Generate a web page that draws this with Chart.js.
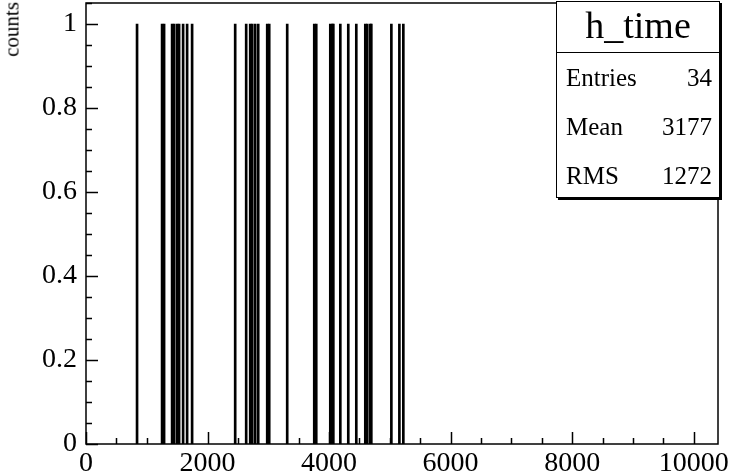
<!DOCTYPE html>
<html>
<head>
<meta charset="utf-8">
<script src="https://cdn.jsdelivr.net/npm/chart.js@4.4.1/dist/chart.umd.min.js"></script>
<style>
  html, body { margin: 0; padding: 0; background: #fff; }
  #wrap { position: relative; width: 730px; height: 476px; }
  #ytitle {
    position: absolute; left: 12px; top: 2px; font-size: 21px; line-height: 21px;
    font-family: "Liberation Serif", "DejaVu Serif", serif; color: #000;
    transform-origin: 0 0; transform: rotate(-90deg) translate(-100%, -50%);
    white-space: nowrap;
  }
  #stats {
    position: absolute; left: 556px; top: 1px; width: 162px; height: 195px;
    border: 1.5px solid #000; box-shadow: 2px 2px 0 #000; background: #fff;
    font-family: "Liberation Serif", "DejaVu Serif", serif; color: #000;
  }
  #stats .title {
    height: 50px; line-height: 46px; border-bottom: 1.5px solid #000;
    font-size: 38px; text-align: center;
  }
  #stats .row {
    display: flex; justify-content: space-between;
    height: 49px; line-height: 49px; padding: 0 7px 0 9px; font-size: 25px;
  }
  #stats .row:last-child { height: 46px; }
</style>
</head>
<body>
<div id="wrap">
  <canvas id="hist" width="730" height="476"></canvas>
  <div id="ytitle">counts</div>
  <div id="stats">
    <div class="title">h_time</div>
    <div class="row"><span>Entries</span><span>34</span></div>
    <div class="row"><span>Mean</span><span>3177</span></div>
    <div class="row"><span>RMS</span><span>1272</span></div>
  </div>
</div>
<script>
// one entry per hit
const hitTimes = [
  840, 1252, 1285, 1417, 1450, 1499, 1532, 1598, 1664, 1746,
  2455, 2636, 2702, 2735, 2784, 2834, 2982, 3015, 3311,
  3756, 3789, 4020, 4053, 4070, 4185, 4316, 4448, 4596, 4629, 4679, 4695,
  5025, 5157, 5222,
];
const hitCounts = [
  1, 1, 1, 1, 1, 1, 1, 1, 1, 1,
  1, 1, 1, 1, 1, 1, 1, 1, 1,
  1, 1, 1, 1, 1, 1, 1, 1, 1, 1, 1, 1,
  1, 1, 1,
];
const xTicks = [0, 2000, 4000, 6000, 8000, 10000];
const yTicks = [0, 0.2, 0.4, 0.6, 0.8, 1];
const xRange = [0, 10400];
const yRange = [0, 1.05];

const serif = '"Liberation Serif", "DejaVu Serif", serif';

// ROOT style frame with ticks pointing inwards
const rootFrame = {
  id: "rootFrame",
  afterDatasetsDraw(chart) {
    const { ctx, chartArea: a, scales } = chart;
    const { x, y } = scales;
    ctx.save();
    ctx.strokeStyle = "#000";
    ctx.lineWidth = 1.5;
    ctx.strokeRect(a.left, a.top, a.right - a.left, a.bottom - a.top);
    ctx.beginPath();
    // x: major every 2000, minor every 500
    for (let i = 0; i * 500 <= xRange[1]; i++) {
      const px = Math.round(x.getPixelForValue(i * 500)) + 0.5;
      const len = i % 4 === 0 ? 12 : 6;
      ctx.moveTo(px, a.bottom);
      ctx.lineTo(px, a.bottom - len);
    }
    // y: major every 0.2, minor every 0.05
    for (let i = 0; i * 0.05 <= yRange[1] + 1e-9; i++) {
      const py = Math.round(y.getPixelForValue(i * 0.05)) + 0.5;
      const len = i % 4 === 0 ? 12 : 6;
      ctx.moveTo(a.left, py);
      ctx.lineTo(a.left + len, py);
    }
    ctx.stroke();
    ctx.restore();
  },
};

new Chart(document.getElementById("hist"), {
  type: "bar",
  data: {
    datasets: [
      {
        data: hitTimes.map((t, i) => ({ x: t, y: hitCounts[i] })),
        backgroundColor: "#000",
        borderWidth: 0,
        barThickness: 2,
      },
    ],
  },
  options: {
    responsive: false,
    animation: false,
    layout: { padding: { top: 3, right: 12, bottom: 0, left: 0 } },
    plugins: { legend: { display: false }, tooltip: { enabled: false } },
    scales: {
      x: {
        type: "linear",
        offset: false,
        min: xRange[0],
        max: xRange[1],
        afterBuildTicks: (axis) => { axis.ticks = xTicks.map((v) => ({ value: v })); },
        afterFit: (axis) => {
          axis.height = 32;
          axis.paddingLeft = 0;
          axis.paddingRight = 0;
        },
        grid: { display: false, drawTicks: false },
        border: { display: false },
        ticks: {
          color: "#000", padding: 3, maxRotation: 0, autoSkip: false,
          font: { family: serif, size: 28 },
          callback: (v) => String(v),
        },
      },
      y: {
        min: yRange[0],
        max: yRange[1],
        afterBuildTicks: (axis) => { axis.ticks = yTicks.map((v) => ({ value: v })); },
        afterFit: (axis) => {
          axis.width = 86;
          axis.paddingTop = 0;
          axis.paddingBottom = 0;
        },
        grid: { display: false, drawTicks: false },
        border: { display: false },
        ticks: {
          color: "#000", padding: 9,
          font: { family: serif, size: 28 },
          callback: (v) => String(v),
        },
      },
    },
  },
  plugins: [rootFrame],
});
</script>
</body>
</html>
